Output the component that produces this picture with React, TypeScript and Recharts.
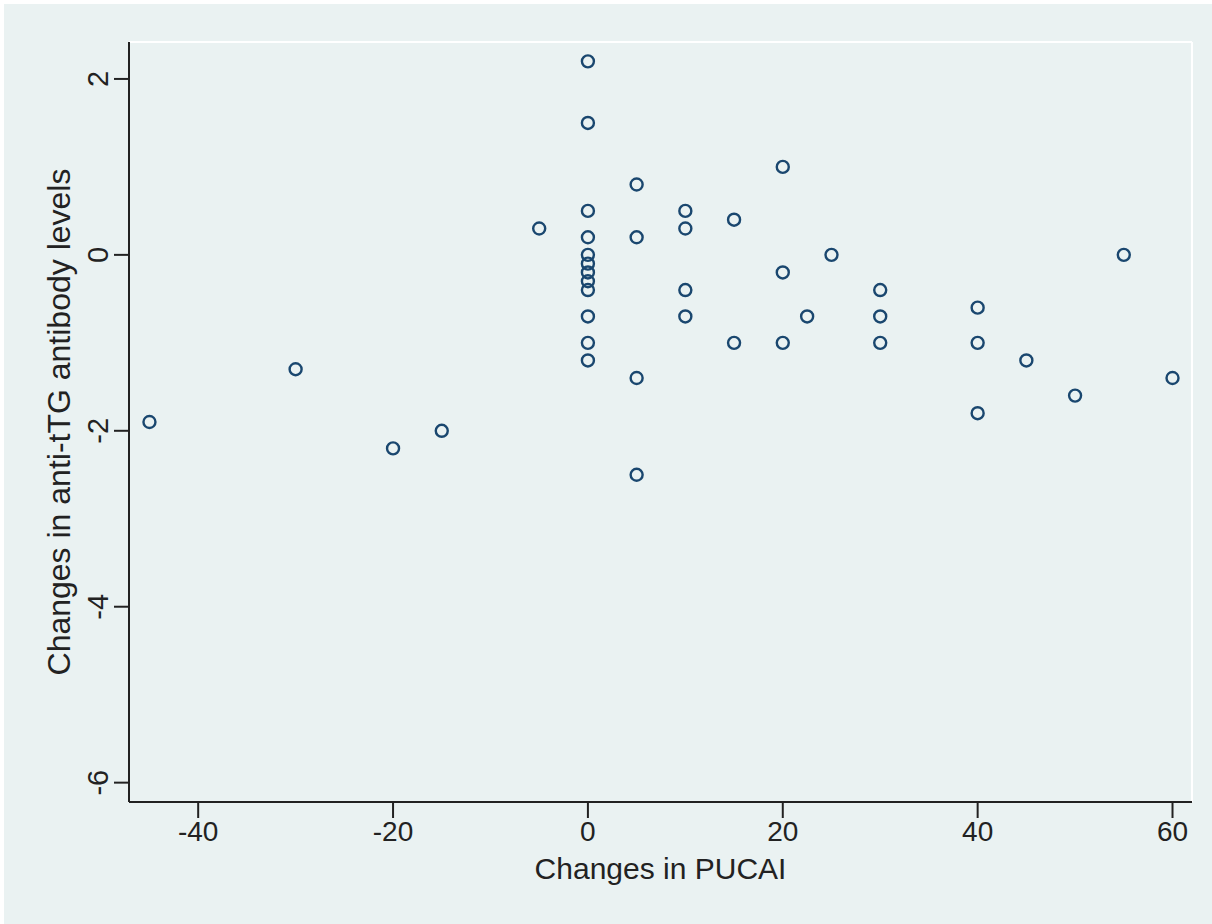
import React from 'react';
import { ScatterChart, Scatter, XAxis, YAxis, ReferenceLine } from 'recharts';

// changes in PUCAI (x) vs changes in anti-tTG antibody levels (y)
const pucai = [
  -45, -30, -20, -15, -5,
  0, 0, 0, 0, 0, 0, 0, 0, 0, 0, 0, 0,
  5, 5, 5, 5,
  10, 10, 10, 10,
  15, 15,
  20, 20, 20,
  22.5, 25,
  30, 30, 30,
  40, 40, 40,
  45, 50, 55, 60,
];
const antiTTG = [
  -1.9, -1.3, -2.2, -2.0, 0.3,
  2.2, 1.5, 0.5, 0.2, 0, -0.1, -0.2, -0.3, -0.4, -0.7, -1.0, -1.2,
  0.8, 0.2, -1.4, -2.5,
  0.5, 0.3, -0.4, -0.7,
  0.4, -1.0,
  1.0, -0.2, -1.0,
  -0.7, 0,
  -0.4, -0.7, -1.0,
  -0.6, -1.0, -1.8,
  -1.2, -1.6, 0, -1.4,
];
const xTicks = [-40, -20, 0, 20, 40, 60];
const yTicks = [-6, -4, -2, 0, 2];
const xDomain = [-47.1, 62];
const yDomain = [-6.22, 2.42];

const points = pucai.map((x, i) => ({ x, y: antiTTG[i] }));

const FONT = '"Liberation Sans", Arial, Helvetica, sans-serif';
const TEXT = '#222222';
const BG = '#eaf2f2';

const HollowDot = (props: any) => (
  <circle cx={props.cx} cy={props.cy} r={6} fill="none" stroke="#1a476f" strokeWidth={2.4} />
);

const YTick = (props: any) => {
  const { x, y, payload } = props;
  return (
    <text
      x={x}
      y={y}
      transform={`rotate(-90, ${x}, ${y})`}
      textAnchor="middle"
      fill={TEXT}
      fontSize={29}
      fontFamily={FONT}
      dy={-4}
    >
      {payload.value}
    </text>
  );
};

export default function App() {
  return (
    <div style={{ position: 'absolute', left: 0, top: 0, width: 1212, height: 924, background: '#ffffff' }}>
      <div style={{ position: 'absolute', left: 4, top: 4, width: 1208, height: 920, background: BG }} />
      <div style={{ position: 'absolute', left: 0, top: 0 }}>
        <ScatterChart width={1212} height={924} margin={{ top: 42, right: 20, bottom: 0, left: 0 }}>
          <XAxis
            type="number"
            dataKey="x"
            domain={xDomain}
            ticks={xTicks}
            allowDataOverflow
            height={122}
            tickSize={16}
            tickLine={{ stroke: '#222', strokeWidth: 2 }}
            axisLine={{ stroke: '#222', strokeWidth: 2 }}
            tick={{ fill: TEXT, fontSize: 28, fontFamily: FONT }}
            tickMargin={3}
            label={{
              value: 'Changes in PUCAI',
              position: 'insideTop',
              offset: 56,
              fill: TEXT,
              fontSize: 30,
              fontFamily: FONT,
            }}
          />
          <YAxis
            type="number"
            dataKey="y"
            domain={yDomain}
            ticks={yTicks}
            allowDataOverflow
            width={129}
            tickSize={15}
            tickLine={{ stroke: '#222', strokeWidth: 2 }}
            axisLine={{ stroke: '#222', strokeWidth: 2 }}
            tick={<YTick />}
            label={{
              value: 'Changes in anti-tTG antibody levels',
              angle: -90,
              position: 'insideLeft',
              offset: 59,
              fill: TEXT,
              fontSize: 32,
              fontFamily: FONT,
              style: { textAnchor: 'middle' },
            }}
          />
          <ReferenceLine y={yDomain[1]} stroke="#ffffff" strokeWidth={2} />
          <ReferenceLine x={xDomain[1]} stroke="#ffffff" strokeWidth={2} />
          <Scatter data={points} shape={<HollowDot />} isAnimationActive={false} />
        </ScatterChart>
      </div>
    </div>
  );
}
